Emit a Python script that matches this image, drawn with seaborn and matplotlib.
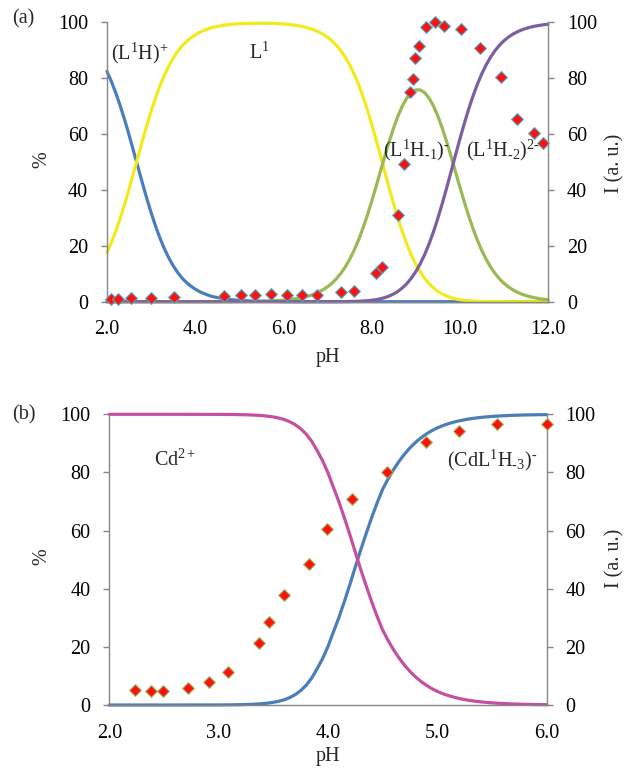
import matplotlib
matplotlib.use("Agg")
import matplotlib.pyplot as plt
import seaborn as sns
from matplotlib.ticker import FixedLocator, FormatStrFormatter

# ---------------- Panel (a) data (species %) ----------------
ph_a = [2.0, 2.1, 2.2, 2.3, 2.4, 2.5, 2.6, 2.7, 2.8, 2.9,
        3.0, 3.1, 3.2, 3.3, 3.4, 3.5, 3.6, 3.7, 3.8, 3.9,
        4.0, 4.1, 4.2, 4.3, 4.4, 4.5, 4.6, 4.7, 4.8, 4.9,
        5.0, 5.1, 5.2, 5.3, 5.4, 5.5, 5.6, 5.7, 5.8, 5.9,
        6.0, 6.1, 6.2, 6.3, 6.4, 6.5, 6.6, 6.7, 6.8, 6.9,
        7.0, 7.1, 7.2, 7.3, 7.4, 7.5, 7.6, 7.7, 7.8, 7.9,
        8.0, 8.1, 8.2, 8.3, 8.4, 8.5, 8.6, 8.7, 8.8, 8.9,
        9.0, 9.1, 9.2, 9.3, 9.4, 9.5, 9.6, 9.7, 9.8, 9.9,
        10.0, 10.1, 10.2, 10.3, 10.4, 10.5, 10.6, 10.7, 10.8, 10.9,
        11.0, 11.1, 11.2, 11.3, 11.4, 11.5, 11.6, 11.7, 11.8, 11.9,
        12.0]
l1h = [82.4, 78.8, 74.7, 70.1, 65.1, 59.7, 54.0, 48.3, 42.6, 37.1,
       31.9, 27.1, 22.8, 19.0, 15.7, 12.9, 10.5, 8.5, 6.9, 5.6,
       4.5, 3.6, 2.9, 2.3, 1.8, 1.5, 1.2, 0.9, 0.74, 0.59,
       0.47, 0.37, 0.30, 0.23, 0.19, 0.15, 0.12, 0.09, 0.07, 0.06,
       0.05, 0, 0, 0, 0, 0, 0, 0, 0, 0,
       0, 0, 0, 0, 0, 0, 0, 0, 0, 0,
       0, 0, 0, 0, 0, 0, 0, 0, 0, 0,
       0, 0, 0, 0, 0, 0, 0, 0, 0, 0,
       0, 0, 0, 0, 0, 0, 0, 0, 0, 0,
       0, 0, 0, 0, 0, 0, 0, 0, 0, 0,
       0]
l1 = [17.6, 21.2, 25.3, 29.9, 34.9, 40.3, 46.0, 51.7, 57.4, 62.9,
      68.1, 72.9, 77.2, 81.0, 84.3, 87.1, 89.5, 91.5, 93.1, 94.4,
      95.5, 96.4, 97.1, 97.7, 98.2, 98.5, 98.8, 99.1, 99.25, 99.38,
      99.47, 99.55, 99.6, 99.65, 99.67, 99.67, 99.66, 99.63, 99.58, 99.50,
      99.39, 99.26, 99.09, 98.87, 98.59, 98.24, 97.80, 97.25, 96.56, 95.71,
      94.67, 93.38, 91.80, 89.89, 87.58, 84.85, 81.62, 77.89, 73.64, 68.88,
      63.69, 58.12, 52.32, 46.43, 40.60, 35.00, 29.72, 24.89, 20.56, 16.76,
      13.48, 10.71, 8.40, 6.50, 4.96, 3.74, 2.78, 2.04, 1.47, 1.04,
      0.73, 0.51, 0.35, 0.23, 0.16, 0.10, 0.07, 0.04, 0.03, 0.02,
      0.01, 0, 0, 0, 0, 0, 0, 0, 0, 0,
      0]
l1hm1 = [0, 0, 0, 0, 0, 0, 0, 0, 0, 0,
         0, 0, 0, 0, 0, 0, 0, 0, 0, 0,
         0, 0, 0, 0, 0, 0.02, 0.03, 0.03, 0.04, 0.05,
         0.06, 0.07, 0.09, 0.11, 0.14, 0.18, 0.22, 0.28, 0.35, 0.45,
         0.56, 0.70, 0.88, 1.11, 1.39, 1.75, 2.19, 2.74, 3.43, 4.28,
         5.32, 6.61, 8.18, 10.08, 12.37, 15.09, 18.27, 21.95, 26.13, 30.77,
         35.81, 41.14, 46.63, 52.10, 57.37, 62.23, 66.54, 70.14, 72.94, 74.85,
         75.81, 75.81, 74.85, 72.94, 70.15, 66.54, 62.23, 57.36, 52.10, 46.63,
         41.15, 35.81, 30.77, 26.13, 21.96, 18.27, 15.09, 12.37, 10.09, 8.18,
         6.61, 5.32, 4.28, 3.43, 2.74, 2.19, 1.75, 1.39, 1.11, 0.88,
         0.70]
l1hm2 = [0, 0, 0, 0, 0, 0, 0, 0, 0, 0,
         0, 0, 0, 0, 0, 0, 0, 0, 0, 0,
         0, 0, 0, 0, 0, 0, 0, 0, 0, 0,
         0, 0, 0, 0, 0, 0, 0, 0, 0, 0,
         0, 0, 0, 0, 0, 0, 0, 0, 0, 0,
         0.01, 0.01, 0.02, 0.03, 0.04, 0.07, 0.10, 0.16, 0.23, 0.35,
         0.51, 0.73, 1.04, 1.47, 2.03, 2.78, 3.74, 4.97, 6.50, 8.40,
         10.71, 13.48, 16.75, 20.56, 24.88, 29.73, 34.99, 40.61, 46.43, 52.32,
         58.12, 63.68, 68.88, 73.64, 77.89, 81.63, 84.84, 87.58, 89.89, 91.80,
         93.38, 94.67, 95.72, 96.57, 97.26, 97.81, 98.25, 98.61, 98.89, 99.12,
         99.30]
# emission intensity (a)
ph_a_pts = [2.10, 2.24, 2.54, 3.00, 3.51, 4.65, 5.04, 5.35, 5.71, 6.08, 6.42, 6.76, 7.30,
            7.59, 8.10, 8.23, 8.59, 8.74, 8.87, 8.95, 8.98, 9.08, 9.23, 9.44, 9.64, 10.02,
            10.46, 10.93, 11.29, 11.69, 11.89]
int_a = [0.8, 1.0, 1.2, 1.4, 1.6, 2.0, 2.4, 2.4, 2.7, 2.4, 2.4, 2.4, 3.3,
         3.8, 10.1, 12.3, 31.0, 49.2, 75.2, 79.6, 87.1, 91.5, 98.2, 100.0, 98.7, 97.6,
         90.7, 80.5, 65.4, 60.5, 56.7]
xticks_a = [2.0, 4.0, 6.0, 8.0, 10.0, 12.0]

# ---------------- Panel (b) data ----------------
ph_b = [2.0, 2.5, 3.0, 3.1, 3.2,
        3.25, 3.3, 3.35, 3.4, 3.45, 3.5, 3.55, 3.6, 3.65, 3.7,
        3.75, 3.8, 3.85, 3.9, 3.95, 4.0, 4.05, 4.1, 4.15, 4.2,
        4.25, 4.3, 4.35, 4.4, 4.45, 4.5, 4.55, 4.6, 4.65, 4.7,
        4.75, 4.8, 4.85, 4.9, 4.95, 5.0, 5.05, 5.1, 5.15, 5.2,
        5.25, 5.3, 5.35, 5.4, 5.45, 5.5,
        5.6, 5.7, 5.8, 5.9, 6.0]
cdl = [0.0, 0.0, 0.03, 0.06, 0.12,
       0.16, 0.23, 0.33, 0.46, 0.65, 0.92, 1.29, 1.81, 2.55, 3.56,
       4.95, 6.79, 9.22, 12.43, 15.91, 20.15, 25.18, 30.12, 35.63, 41.42,
       47.52, 53.45, 59.10, 64.54, 69.61, 74.25, 77.82, 81.01, 83.84, 86.32,
       88.47, 90.32, 91.90, 93.24, 94.38, 95.33, 96.11, 96.76, 97.30, 97.76,
       98.14, 98.46, 98.72, 98.94, 99.12, 99.27,
       99.50, 99.66, 99.77, 99.84, 99.89]
cd = [100.0, 100.0, 99.97, 99.94, 99.88,
      99.84, 99.77, 99.67, 99.54, 99.35, 99.08, 98.71, 98.19, 97.45, 96.44,
      95.05, 93.21, 90.78, 87.57, 84.09, 79.85, 74.82, 69.88, 64.37, 58.58,
      52.48, 46.55, 40.90, 35.46, 30.39, 25.75, 22.18, 18.99, 16.16, 13.68,
      11.53, 9.68, 8.10, 6.76, 5.62, 4.67, 3.89, 3.24, 2.70, 2.24,
      1.86, 1.54, 1.28, 1.06, 0.88, 0.73,
      0.50, 0.34, 0.23, 0.16, 0.11]
ph_b_pts = [2.235, 2.38, 2.49, 2.72, 2.91, 3.09, 3.37, 3.46, 3.60, 3.83, 3.99, 4.22, 4.54,
            4.90, 5.20, 5.55, 6.00]
int_b = [5.2, 4.9, 4.7, 6.0, 7.8, 11.5, 21.4, 28.6, 37.7, 48.6, 60.4, 70.8, 80.3,
         90.6, 94.4, 96.8, 96.8]
xticks_b = [2.0, 3.0, 4.0, 5.0, 6.0]
yticks = [0, 20, 40, 60, 80, 100]

# ---------------- style ----------------
sns.set_style("white")
plt.rcParams['font.family'] = ['Liberation Serif', 'DejaVu Serif']
plt.rcParams['mathtext.fontset'] = 'custom'
plt.rcParams['mathtext.rm'] = 'Liberation Serif'
plt.rcParams['mathtext.it'] = 'Liberation Serif:italic'
plt.rcParams['mathtext.bf'] = 'Liberation Serif:bold'

GRAY = '#868686'
FS = 14.5
LW = 2.3
W, H = 627.0, 768.0

fig = plt.figure(figsize=(6.27, 7.68), dpi=100)


def style(ax, ax2, xticks, xlim):
    ax.set_xlim(*xlim)
    ax.set_ylim(0, 100)
    ax2.set_ylim(0, 100)
    ax.xaxis.set_major_locator(FixedLocator(xticks))
    ax.xaxis.set_major_formatter(FormatStrFormatter('%.1f'))
    ax.yaxis.set_major_locator(FixedLocator(yticks))
    ax2.yaxis.set_major_locator(FixedLocator(yticks))
    for a in (ax, ax2):
        for s in a.spines.values():
            s.set_color(GRAY)
            s.set_linewidth(1.0)
        a.spines['top'].set_visible(False)
        a.tick_params(axis='both', direction='out', length=4, width=1.0,
                      color=GRAY, labelsize=FS, pad=9.5, labelcolor='black')
        a.grid(False)
        a.set_xlabel('')
        a.set_ylabel('')
    ax.spines['right'].set_visible(False)
    ax2.spines['left'].set_visible(False)
    ax2.spines['bottom'].set_visible(False)


# ---------------- Panel (a) ----------------
axA = fig.add_axes([107 / W, 1 - 301.7 / H, 441 / W, 279.4 / H])
axA2 = axA.twinx()
sns.lineplot(x=ph_a, y=l1h, ax=axA, color='#4A7EBB', linewidth=LW, clip_on=False)
sns.lineplot(x=ph_a, y=l1, ax=axA, color='#F2EA1A', linewidth=LW, clip_on=False)
sns.lineplot(x=ph_a, y=l1hm1, ax=axA, color='#98B954', linewidth=LW, clip_on=False)
sns.lineplot(x=ph_a, y=l1hm2, ax=axA, color='#7D5FA0', linewidth=LW, clip_on=False)
sns.scatterplot(x=ph_a_pts, y=int_a, ax=axA2, marker='D', s=36, color='#FF1010',
                edgecolor='#4BACC6', linewidth=0.8, clip_on=False, zorder=5)
style(axA, axA2, xticks_a, (2.0, 12.0))
axA.text(2.1, 89, r'(L$^{1}$H)$^{+}$', fontsize=FS, ha='left', va='center')
axA.text(5.22, 89, r'L$^{1}$', fontsize=FS, ha='left', va='center')
axA.text(8.26, 54, r'(L$^{1}$H$_{\text{-}1}$)$^{\text{-}}$', fontsize=FS, ha='left', va='center')
axA.text(10.13, 54, r'(L$^{1}$H$_{\text{-}2}$)$^{2\text{-}}$', fontsize=FS, ha='left', va='center')
fig.text(12 / W, 1 - 19 / H, '(a)', fontsize=FS, ha='left', va='center')
fig.text(327.5 / W, 1 - 358 / H, 'pH', fontsize=FS, ha='center', va='center')
fig.text(42 / W, 1 - 160 / H, '%', fontsize=FS, ha='center', va='center', rotation=90)
fig.text(615 / W, 1 - 163 / H, 'I (a. u.)', fontsize=FS, ha='center', va='center', rotation=90)

# ---------------- Panel (b) ----------------
axB = fig.add_axes([109.3 / W, 1 - 705 / H, 437.4 / W, 290.7 / H])
axB2 = axB.twinx()
sns.lineplot(x=ph_b, y=cdl, ax=axB, color='#4A7EBB', linewidth=LW, clip_on=False)
sns.lineplot(x=ph_b, y=cd, ax=axB, color='#C54FA0', linewidth=LW, clip_on=False)
sns.scatterplot(x=ph_b_pts, y=int_b, ax=axB2, marker='D', s=36, color='#FF1010',
                edgecolor='#9BBB59', linewidth=0.8, clip_on=False, zorder=5)
style(axB, axB2, xticks_b, (2.0, 6.0))
axB.text(2.41, 84.3, r'Cd$^{2+}$', fontsize=FS, ha='left', va='center')
axB.text(5.09, 84, r'(CdL$^{1}$H$_{\text{-}3}$)$^{\text{-}}$', fontsize=FS, ha='left', va='center')
fig.text(12 / W, 1 - 415 / H, '(b)', fontsize=FS, ha='left', va='center')
fig.text(328 / W, 1 - 757 / H, 'pH', fontsize=FS, ha='center', va='center')
fig.text(42 / W, 1 - 557 / H, '%', fontsize=FS, ha='center', va='center', rotation=90)
fig.text(615 / W, 1 - 558 / H, 'I (a. u.)', fontsize=FS, ha='center', va='center', rotation=90)

fig.savefig('out.png', dpi=100)
